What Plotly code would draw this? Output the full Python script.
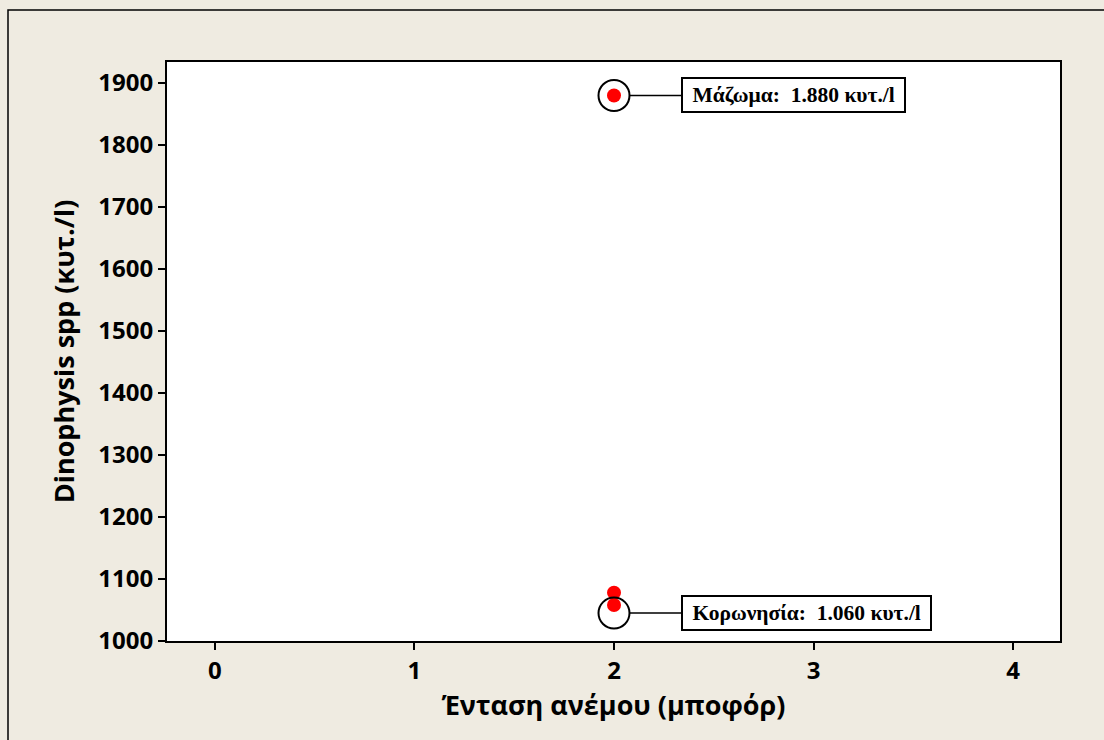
import plotly.graph_objects as go

# Data
wind_bf = [2, 2, 2]
dinophysis = [1880, 1078, 1058]
labels = ["Μάζωμα:  1.880 κυτ./l", "Κορωνησία:  1.060 κυτ./l"]
label_x = [2, 2]
label_y = [1880, 1045]
x_ticks = [0, 1, 2, 3, 4]
y_ticks = [1000, 1100, 1200, 1300, 1400, 1500, 1600, 1700, 1800, 1900]

W, H = 1104, 740
L, R, T, B = 167, 1060, 62, 641
BG = "#EFEBE1"

def px(xp):
    return (xp - L) / (R - L)

def py(yp):
    return (B - yp) / (B - T)

fig = go.Figure()
fig.add_trace(go.Scatter(
    x=wind_bf, y=dinophysis, mode="markers",
    marker=dict(color="#FF0000", size=14, line=dict(width=0)),
    showlegend=False, cliponaxis=False, hoverinfo="skip"))
fig.add_trace(go.Scatter(
    x=label_x, y=label_y, mode="markers",
    marker=dict(symbol="circle-open", color="black", size=31, line=dict(width=2)),
    showlegend=False, cliponaxis=False, hoverinfo="skip"))

for txt, lx, ly in zip(labels, label_x, label_y):
    fig.add_annotation(
        x=lx, y=ly, xref="x", yref="y",
        text="&nbsp;<b>" + txt.replace("  ", "&nbsp; ") + "</b>&nbsp;",
        showarrow=True, arrowhead=0, arrowwidth=1.5, arrowcolor="black",
        ax=67, ay=0, xanchor="left", standoff=16,
        font=dict(family="Liberation Serif, Times New Roman, serif", size=21.5, color="black"),
        bgcolor="white", bordercolor="black", borderwidth=2, borderpad=4)

# outer frame
fig.add_shape(type="rect", xref="paper", yref="paper",
              x0=px(8), x1=px(1110), y0=py(750), y1=py(10),
              line=dict(color="black", width=1.5), fillcolor="rgba(0,0,0,0)", layer="below")

tick_font = dict(family="Open Sans, DejaVu Sans, sans-serif", size=24, color="black", weight="bold")
title_font = dict(family="Open Sans, DejaVu Sans, sans-serif", size=27, color="black", weight="bold")

fig.update_layout(
    width=W, height=H,
    margin=dict(l=L, r=W - R, t=T, b=H - B, pad=0),
    paper_bgcolor=BG, plot_bgcolor="white",
    xaxis=dict(range=[-0.24, 4.235], tickvals=x_ticks, ticks="outside", ticklen=7, tickwidth=2,
               tickcolor="black", showline=True, linecolor="black", linewidth=2, mirror=True,
               showgrid=False, zeroline=False, tickfont=tick_font,
               title=dict(text="Ένταση ανέμου (μποφόρ)", font=title_font, standoff=6)),
    yaxis=dict(range=[1000, 1934], tickvals=y_ticks, ticks="outside", ticklen=7, tickwidth=2,
               tickcolor="black", showline=True, linecolor="black", linewidth=2, mirror=True,
               showgrid=False, zeroline=False, tickfont=tick_font,
               title=dict(text="Dinophysis spp (κυτ./l)", font=title_font, standoff=16)),
)

fig.write_html("out.html", config={"displayModeBar": False},
               post_script="document.body.style.margin='0';")
